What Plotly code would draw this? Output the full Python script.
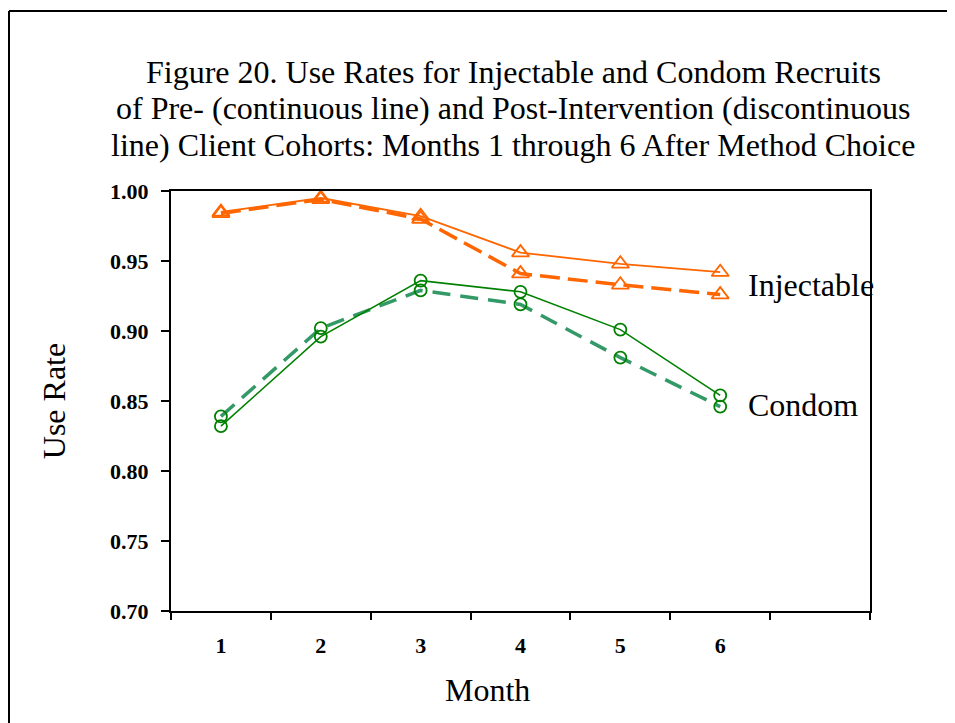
# use rates for injectable and condom recruits, pre vs post intervention cohorts

import plotly.graph_objects as go

months = [1, 2, 3, 4, 5, 6]
month_labels = ["1", "2", "3", "4", "5", "6"]

injectable_pre = [0.985, 0.995, 0.982, 0.956, 0.948, 0.942]
injectable_post = [0.984, 0.994, 0.980, 0.941, 0.933, 0.926]
condom_pre = [0.832, 0.896, 0.936, 0.928, 0.901, 0.854]
condom_post = [0.839, 0.902, 0.929, 0.919, 0.881, 0.846]

title_lines = ["Figure 20. Use Rates for Injectable and Condom Recruits",
               "of Pre- (continuous line) and Post-Intervention (discontinuous",
               "line) Client Cohorts: Months 1 through 6 After Method Choice"]

orange = "#FF6600"
green = "#008000"
seagreen = "#339966"
serif = "Liberation Serif, Times New Roman, serif"

# page body has an 8px margin, so the figure is offset by (8, 8);
# keep it inside the window so no scrollbars appear
FW, FH = 947, 715
L, T, W, H = 163, 183, 699, 420


def px_x(x):
    return (x - L) / W


def px_y(y):
    return (T + H - y) / H


fig = go.Figure()
fig.add_trace(go.Scatter(x=months, y=injectable_post, mode="lines+markers", name="Injectable post",
                         line=dict(color=orange, width=3.5, dash="20px,8px"),
                         marker=dict(symbol="triangle-up-open", size=15, color=orange, line=dict(width=1.8))))
fig.add_trace(go.Scatter(x=months, y=injectable_pre, mode="lines+markers", name="Injectable pre",
                         line=dict(color=orange, width=1.8),
                         marker=dict(symbol="triangle-up-open", size=15, color=orange, line=dict(width=1.8))))
fig.add_trace(go.Scatter(x=months, y=condom_post, mode="lines+markers", name="Condom post",
                         line=dict(color=seagreen, width=3.5, dash="18px,10px"),
                         marker=dict(symbol="circle-open", size=12, color=green, line=dict(width=1.8))))
fig.add_trace(go.Scatter(x=months, y=condom_pre, mode="lines+markers", name="Condom pre",
                         line=dict(color=green, width=1.6),
                         marker=dict(symbol="circle-open", size=12, color=green, line=dict(width=1.8))))

fig.add_annotation(x=6, y=0.933, xshift=26, text="Injectable", showarrow=False, xanchor="left",
                   font=dict(family=serif, size=32, color="black"))
fig.add_annotation(x=6, y=0.847, xshift=26, text="Condom", showarrow=False, xanchor="left",
                   font=dict(family=serif, size=32, color="black"))

# title, one line per annotation to keep the tighter line spacing
for line, yc in zip(title_lines, [64, 100, 137]):
    fig.add_annotation(x=px_x(505), y=px_y(yc), xref="paper", yref="paper", text=line,
                       showarrow=False, xanchor="center", yanchor="middle",
                       font=dict(family=serif, size=32, color="black"))

fig.add_annotation(x=px_x(479), y=px_y(682), xref="paper", yref="paper", text="Month",
                   showarrow=False, xanchor="center", yanchor="middle",
                   font=dict(family=serif, size=32, color="black"))

# outer frame of the figure: only the left and top edges are in view
fig.add_shape(type="line", xref="paper", yref="paper",
              x0=px_x(1), x1=px_x(1), y0=px_y(3), y1=px_y(900),
              line=dict(color="black", width=2))
fig.add_shape(type="line", xref="paper", yref="paper",
              x0=px_x(1), x1=px_x(1100), y0=px_y(3), y1=px_y(3),
              line=dict(color="black", width=2))

fig.update_layout(
    width=FW, height=FH,
    margin=dict(l=L, r=FW - L - W, t=T, b=FH - T - H),
    paper_bgcolor="white", plot_bgcolor="white",
    showlegend=False,
    font=dict(family=serif, color="black"),
    xaxis=dict(range=[0.5, 7.5], tickvals=months, ticktext=month_labels, ticks="",
               ticklabelstandoff=14,
               tickfont=dict(family=serif, size=22, color="black", weight="bold"),
               minor=dict(tickvals=[0.5, 1.5, 2.5, 3.5, 4.5, 5.5, 6.5, 7.5], ticks="outside",
                          ticklen=7, tickwidth=2, tickcolor="black"),
               showline=True, linecolor="black", linewidth=2, mirror=True,
               showgrid=False, zeroline=False),
    yaxis=dict(range=[0.70, 1.00], dtick=0.05, tickformat=".2f", ticks="outside",
               ticklen=8, tickwidth=2, tickcolor="black", ticklabelstandoff=8,
               tickfont=dict(family=serif, size=22, color="black", weight="bold"),
               showline=True, linecolor="black", linewidth=2, mirror=True,
               showgrid=False, zeroline=False,
               title=dict(text="Use Rate", standoff=35, font=dict(family=serif, size=32, color="black"))),
)

fig.write_html("out.html")
